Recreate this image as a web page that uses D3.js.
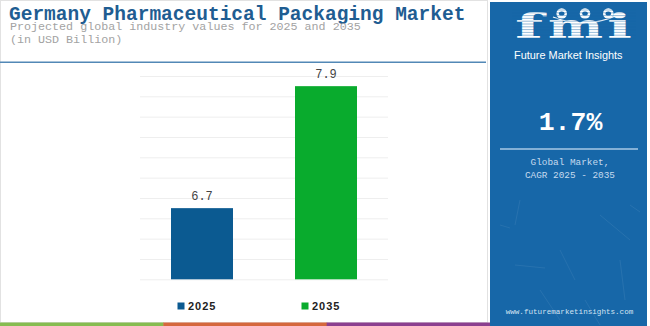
<!DOCTYPE html>
<html>
<head>
<meta charset="utf-8">
<script src="https://cdn.jsdelivr.net/npm/d3@7"></script>
<style>
  html, body { margin: 0; padding: 0; background: #ffffff; }
  svg { display: block; }
</style>
</head>
<body>
<svg id="chart" width="650" height="326"></svg>
<script>
// Market values, USD billion
const years = ["2025", "2035"];
const values = [6.7, 7.9];
const barColors = ["#0b5a91", "#09ab2d"];
const gridTicks = [6.0, 6.2, 6.4, 6.6, 6.8, 7.0, 7.2, 7.4, 7.6, 7.8, 8.0];

const titleText = "Germany Pharmaceutical Packaging Market";
const subtitleLines = ["Projected global industry values for 2025 and 2035", "(in USD Billion)"];
const cagrText = "1.7%";
const cagrLabels = ["Global Market,", "CAGR 2025 - 2035"];
const siteText = "www.futuremarketinsights.com";
const brandText = "Future Market Insights";
const footerColors = ["#86bc50", "#d5683d", "#8b3f8f"];

const svg = d3.select("#chart");
const mono = "'Liberation Mono', 'Courier New', monospace";
const sans = "'Liberation Sans', Arial, sans-serif";
const panelBlue = "#1767a8";

// card outline
svg.append("rect")
  .attr("x", 0.5).attr("y", 0.5).attr("width", 487).attr("height", 322)
  .attr("fill", "#fff").attr("stroke", "#e2e2e2");

// heading
svg.append("text")
  .attr("x", 9).attr("y", 19.5)
  .attr("font-family", mono).attr("font-weight", "bold").attr("font-size", 19.5)
  .attr("fill", "#1f5d92")
  .text(titleText);

svg.selectAll("text.sub").data(subtitleLines).join("text")
  .attr("class", "sub")
  .attr("x", 10).attr("y", (d, i) => 29.8 + i * 13.1)
  .attr("font-family", mono).attr("font-size", 11.7)
  .attr("fill", "#a3a3a3")
  .text(d => d);

svg.append("line")
  .attr("x1", 0).attr("x2", 486).attr("y1", 62.3).attr("y2", 62.3)
  .attr("stroke", "#5288b6").attr("stroke-width", 1.6);

// scales
const x = d3.scaleBand().domain(years).range([140, 388]).paddingInner(0.5).paddingOuter(0.25);
const y = d3.scaleLinear().domain([6, 8]).range([279.3, 76]);

// gridlines
svg.append("g")
  .attr("transform", "translate(140,0)")
  .call(d3.axisLeft(y).tickValues(gridTicks).tickSize(-248).tickFormat(""))
  .call(g => g.select(".domain").remove())
  .call(g => g.selectAll(".tick line").attr("stroke", "#eeeeee").attr("stroke-width", 1));

// bars
svg.selectAll("rect.bar").data(values).join("rect")
  .attr("class", "bar")
  .attr("x", (d, i) => x(years[i]))
  .attr("width", x.bandwidth())
  .attr("y", d => y(d))
  .attr("height", d => y(6) - y(d))
  .attr("fill", (d, i) => barColors[i]);

svg.selectAll("text.val").data(values).join("text")
  .attr("class", "val")
  .attr("x", (d, i) => x(years[i]) + x.bandwidth() / 2)
  .attr("y", d => y(d) - 8)
  .attr("text-anchor", "middle")
  .attr("font-family", mono).attr("font-size", 12)
  .attr("fill", "#444")
  .text(d => d.toFixed(1));

// legend
const legend = svg.selectAll("g.leg").data(years).join("g")
  .attr("class", "leg")
  .attr("transform", (d, i) => `translate(${x(d) + 6.5},0)`);
legend.append("rect")
  .attr("x", 0).attr("y", 302.5).attr("width", 7).attr("height", 7)
  .attr("fill", (d, i) => barColors[i]);
legend.append("text")
  .attr("x", 10.5).attr("y", 309.7)
  .attr("font-family", sans).attr("font-weight", "bold").attr("font-size", 11)
  .attr("letter-spacing", 1)
  .attr("fill", "#222")
  .text(d => d);

// footer stripe
const footer = d3.scaleBand().domain(footerColors).range([0, 490]);
svg.selectAll("rect.foot").data(footerColors).join("rect")
  .attr("class", "foot")
  .attr("x", d => footer(d)).attr("width", footer.bandwidth() + 0.5)
  .attr("y", 322.5).attr("height", 3.5)
  .attr("fill", d => d);

// side panel
const panel = svg.append("g");
panel.append("rect")
  .attr("x", 490).attr("y", 2).attr("width", 157).attr("height", 324)
  .attr("fill", panelBlue);

// faint texture strokes on the panel
const scratches = [
  [520, 200, 515, 225], [560, 250, 575, 280], [600, 215, 630, 240],
  [515, 265, 545, 268], [620, 260, 625, 300], [540, 290, 560, 320],
  [585, 300, 600, 325], [500, 225, 510, 228], [630, 205, 640, 212]
];
panel.selectAll("line.scr").data(scratches).join("line")
  .attr("class", "scr")
  .attr("x1", d => d[0]).attr("y1", d => d[1]).attr("x2", d => d[2]).attr("y2", d => d[3])
  .attr("stroke", "#ffffff").attr("stroke-opacity", 0.07).attr("stroke-width", 1);

// logo letters
const logo = panel.append("g");
const letters = [["f", 515, 28], ["m", 548, 55], ["i", 607, 25]];
logo.selectAll("text").data(letters).join("text")
  .attr("x", d => d[1]).attr("y", 37.7)
  .attr("textLength", d => d[2]).attr("lengthAdjust", "spacingAndGlyphs")
  .attr("font-family", "'DejaVu Serif', serif").attr("font-weight", "bold").attr("font-size", 33)
  .attr("fill", "#fff")
  .text(d => d[0]);
// globe marks
const globes = [561.7, 585, 608.3];
logo.selectAll("circle").data(globes).join("circle")
  .attr("cx", d => d).attr("cy", 13.5).attr("r", 5.3)
  .attr("fill", "#fff");
logo.selectAll("ellipse").data(globes).join("ellipse")
  .attr("cx", d => d).attr("cy", 13.5).attr("rx", 2.8).attr("ry", 2)
  .attr("fill", panelBlue);
logo.append("path")
  .attr("d", "M553,17 Q585,30 618,15")
  .attr("fill", "none").attr("stroke", "#fff").attr("stroke-width", 1.2);
// horizontal striping across the logo
logo.selectAll("line.stripe").data(d3.range(10, 40, 2.8)).join("line")
  .attr("class", "stripe")
  .attr("x1", 512).attr("x2", 636).attr("y1", d => d).attr("y2", d => d)
  .attr("stroke", panelBlue).attr("stroke-width", 0.45);

panel.append("text")
  .attr("x", 514).attr("y", 58.5)
  .attr("textLength", 108.5).attr("lengthAdjust", "spacingAndGlyphs")
  .attr("font-family", sans).attr("font-size", 10.5)
  .attr("fill", "#fff")
  .text(brandText);

panel.append("text")
  .attr("x", 570.5).attr("y", 130)
  .attr("text-anchor", "middle")
  .attr("font-family", mono).attr("font-weight", "bold").attr("font-size", 26.5)
  .attr("fill", "#fff")
  .text(cagrText);

panel.append("line")
  .attr("x1", 500).attr("x2", 638).attr("y1", 149).attr("y2", 149)
  .attr("stroke", "#a9c9e6").attr("stroke-width", 1.5);

panel.selectAll("text.cagr").data(cagrLabels).join("text")
  .attr("class", "cagr")
  .attr("x", 570).attr("y", (d, i) => 165 + i * 13.4)
  .attr("text-anchor", "middle")
  .attr("font-family", mono).attr("font-size", 9.4)
  .attr("fill", "#c6dbef")
  .text(d => d);

panel.append("text")
  .attr("x", 569.5).attr("y", 313.7)
  .attr("text-anchor", "middle")
  .attr("font-family", mono).attr("font-size", 7.6)
  .attr("fill", "#d4e4f3")
  .text(siteText);
</script>
</body>
</html>
